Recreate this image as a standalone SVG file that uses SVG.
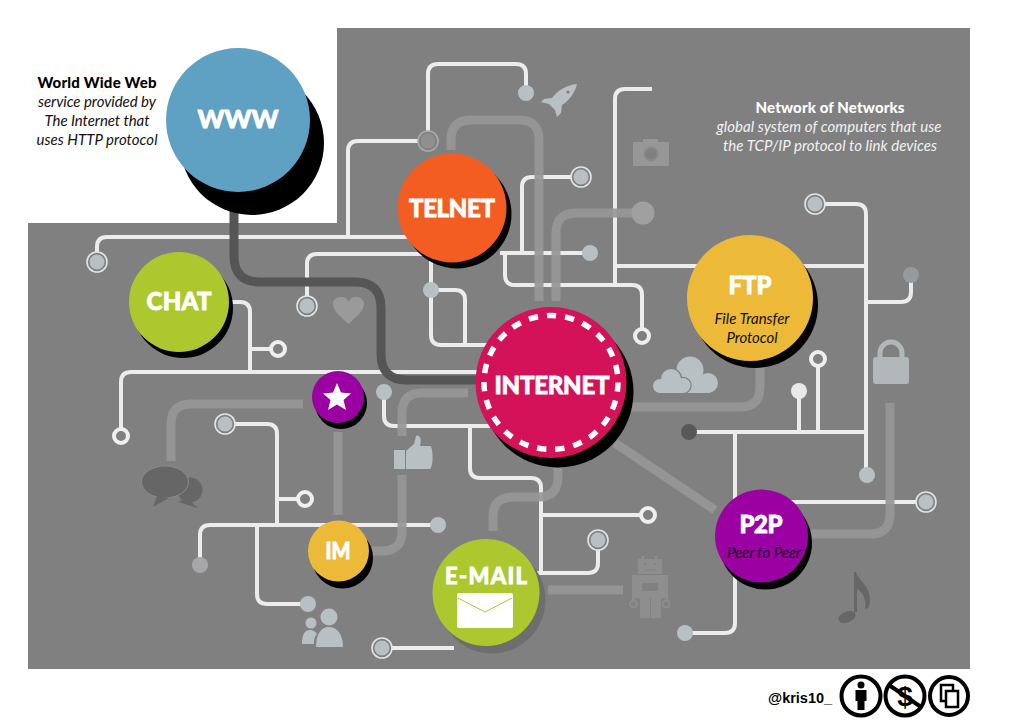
<svg xmlns="http://www.w3.org/2000/svg" width="1023" height="726" viewBox="0 0 1023 726">
<style>
.w{fill:none;stroke:#ececec;stroke-width:4}
.g{fill:none;stroke:#979797;stroke-width:9;opacity:.93}
.d{fill:none;stroke:#555;stroke-width:9}
.n{fill:#b9c0c4}
.ro{fill:#808080;stroke:#e2e4e5;stroke-width:1.6}
.ri{fill:#b9c0c4}
.wr{fill:#808080;stroke:#efefef;stroke-width:4}
.lb{font-family:Lato,"Liberation Sans",sans-serif;font-weight:900;fill:#fff;stroke:#fff;stroke-width:.8;text-anchor:middle}
.it{font-family:Lato,"Liberation Sans",sans-serif;font-style:italic;font-weight:400;font-size:15px;text-anchor:middle}
.hd{font-family:Lato,"Liberation Sans",sans-serif;font-weight:900;font-size:15px;text-anchor:middle}
</style>
<rect width="1023" height="726" fill="#fff"/>
<path d="M337 28H970V669H28V223H337Z" fill="#808080"/>
<g id="connectors">
<path class="w" d="M428 141V74Q428 64 438 64H516Q526 64 526 74V93"/>
<path class="w" d="M428 141H358Q348 141 348 151V237"/>
<path class="w" d="M97 262V247Q97 237 107 237H410"/>
<path class="w" d="M425 254H317Q307 254 307 264V306"/>
<path class="w" d="M431 258V335Q431 345 441 345H490"/>
<path class="w" d="M431 290H455Q465 290 465 300V345"/>
<path class="w" d="M500 253H590"/>
<path class="w" d="M522 253V187Q522 177 532 177H581"/>
<path class="w" d="M505 253V275Q505 285 515 285H632Q642 285 642 295V336"/>
<path class="w" d="M615 285V99Q615 89 625 89H652"/>
<path class="w" d="M615 266H866"/>
<path class="w" d="M815 204H856Q866 204 866 214V475"/>
<path class="w" d="M866 302H901Q911 302 911 292V275"/>
<path class="w" d="M689 432H866"/>
<path class="w" d="M799 432V391"/>
<path class="w" d="M818 432V359"/>
<path class="w" d="M735 432V623Q735 633 725 633H685"/>
<path class="w" d="M790 502H926"/>
<path class="w" d="M228 302H240Q250 302 250 312V372"/>
<path class="w" d="M250 349H278"/>
<path class="w" d="M121 436V382Q121 372 131 372H480"/>
<path class="w" d="M384 392V416Q384 426 394 426H490"/>
<path class="w" d="M470 426V468Q470 478 480 478H531Q541 478 541 488V575"/>
<path class="w" d="M541 515H648"/>
<path class="w" d="M536 573H588Q598 573 598 563V540"/>
<path class="w" d="M200 565V535Q200 525 210 525H438"/>
<path class="w" d="M277 525V434Q277 424 267 424H225"/>
<path class="w" d="M277 499H305"/>
<path class="w" d="M257 525V594Q257 604 267 604H308"/>
<path class="w" d="M382 648H454"/>
<path class="g" d="M451 150V140Q451 120 471 120H519Q539 120 539 140V301"/>
<path class="g" d="M556 301V233Q556 213 576 213H643"/>
<path class="g" d="M303 404H191Q171 404 171 424V461"/>
<path class="g" d="M338 432V515"/>
<path class="g" d="M468 393H422Q402 393 402 413V436"/>
<path class="g" d="M402 475V531Q402 551 382 551H372"/>
<path class="g" d="M493 531V517Q493 497 513 497H538Q558 497 558 477V468"/>
<path class="g" d="M548 590H623"/>
<path class="g" d="M615 443L715 510"/>
<path class="g" d="M760 366V387Q760 407 740 407H630"/>
<path class="g" d="M808 534H870Q890 534 890 514V403"/>
<path class="d" d="M234 210V256Q234 282 260 282H355Q381 282 381 308V354Q381 380 407 380H480"/>
</g>
<g id="terminals">
<circle class="ro" cx="97" cy="262" r="10"/><circle class="ri" cx="97" cy="262" r="7.5"/>
<circle cx="428" cy="141" r="10" fill="#808080" stroke="#a8abad" stroke-width="1.6"/><circle cx="428" cy="141" r="7.5" fill="#8f8f8f"/>
<circle class="n" cx="526" cy="93" r="8"/>
<circle class="ro" cx="307" cy="306" r="10"/><circle class="ri" cx="307" cy="306" r="7.5"/>
<circle class="n" cx="431" cy="290" r="8"/>
<circle class="ro" cx="581" cy="177" r="10"/><circle class="ri" cx="581" cy="177" r="7.5"/>
<circle class="n" cx="590" cy="253" r="8"/>
<circle class="wr" cx="642" cy="336" r="7"/>
<circle cx="643" cy="213" r="11.500" fill="#a0a0a0"/>
<circle class="ro" cx="815" cy="204" r="10"/><circle class="ri" cx="815" cy="204" r="7.5"/>
<circle cx="911" cy="275" r="8" fill="#979a9c"/>
<circle class="n" cx="867" cy="475" r="8"/>
<circle cx="689" cy="432" r="8" fill="#585858"/>
<circle cx="799" cy="391" r="8" fill="#e8eaea"/>
<circle class="wr" cx="818" cy="359" r="7"/>
<circle class="n" cx="685" cy="633" r="8"/>
<circle class="ro" cx="926" cy="502" r="10"/><circle class="ri" cx="926" cy="502" r="7.5"/>
<circle class="wr" cx="278" cy="349" r="7"/>
<circle class="wr" cx="121" cy="436" r="7"/>
<circle class="n" cx="384" cy="392" r="8"/>
<circle class="wr" cx="648" cy="515" r="7"/>
<circle class="ro" cx="598" cy="540" r="10"/><circle class="ri" cx="598" cy="540" r="7.5"/>
<circle cx="200" cy="565" r="8" fill="#a5a8a9"/>
<circle class="n" cx="438" cy="525" r="8"/>
<circle class="ro" cx="225" cy="424" r="10"/><circle class="ri" cx="225" cy="424" r="7.5"/>
<circle class="wr" cx="305" cy="499" r="7"/>
<circle class="n" cx="308" cy="604" r="8"/>
<circle class="ro" cx="382" cy="648" r="10"/><circle class="ri" cx="382" cy="648" r="7.5"/>
</g>
<g id="icons">
<g id="icon-rocket"><path d="M577 84C567 85 558 90 552 98L544 99L541 102L549 104L555 110L557 117L561 113L562 105C570 100 575 92 577 84Z" fill="#b9c0c4"/><circle cx="568" cy="92" r="1.600" fill="#808080"/></g>
<g id="icon-camera"><rect x="633" y="142" width="36" height="24" rx="1" fill="#979797"/><rect x="643" y="139" width="15" height="5" fill="#979797"/><circle cx="651" cy="154" r="6.500" fill="#808080" stroke="#8a8a8a" stroke-width="2"/></g>
<path id="icon-heart" d="M348.500 324C340 316 333 311 333 304C333 299 337 297 341 297C344 297 347 298 348.500 302C350 298 353 297 356 297C360 297 364 299 364 304C364 311 357 316 348.500 324Z" fill="#9a9a9a"/>
<g id="icon-cloud" fill="#b9c0c4">
<circle cx="690" cy="370" r="13.500"/><circle cx="708" cy="383" r="10"/><rect x="680" y="378" width="30" height="15"/>
<g stroke="#808080" stroke-width="2.400"><circle cx="671" cy="379" r="10"/><circle cx="660" cy="386" r="7"/><circle cx="683" cy="385.500" r="7.500"/></g>
<circle cx="671" cy="379" r="10"/><circle cx="660" cy="386" r="7"/><circle cx="683" cy="385.500" r="7.500"/><rect x="660" y="381" width="23" height="12"/></g>
<g id="icon-lock"><path d="M880 360V353A11 11 0 0 1 902 353V360" fill="none" stroke="#b2b7ba" stroke-width="5"/><rect x="873" y="357" width="36" height="27" rx="3" fill="#b2b7ba"/></g>
<g id="icon-thumb" fill="#b9c0c4"><rect x="394" y="450" width="11" height="19"/><path d="M406 451L414 444L416 436C420 434 422 440 420 446H430C433 446 434 466 430 469H406Z"/></g>
<g id="icon-bubbles" fill="#666"><ellipse cx="190" cy="490" rx="12.500" ry="12.500"/><path d="M178 498L198 508L186 504Z"/><path d="M188 499L198 508L178 502Z"/><ellipse cx="165" cy="482" rx="23.500" ry="16" stroke="#8a8a8a" stroke-width="1"/><path d="M157 496L153 507L169 498Z"/></g>
<g id="icon-people" fill="#b9c0c4"><circle cx="329" cy="617" r="8.500"/><path d="M316 647C316 634 321 627 329 627C337 627 343 634 343 647Z"/><circle cx="311" cy="623" r="5.500"/><path d="M302 644C302 634 305 630 310 630C313 630 316 632 317 634C314 637 314 641 314 644Z"/></g>
<g id="icon-robot" fill="#8e8e8e"><rect x="638" y="559" width="24" height="15"/><rect x="642" y="556" width="2" height="4"/><rect x="655" y="556" width="2" height="4"/><rect x="632" y="575" width="36" height="23"/><rect x="640" y="598" width="10" height="20"/><rect x="651" y="598" width="10" height="20"/><path d="M633.500 598V600M666.500 598V600" stroke="#8e8e8e" stroke-width="3"/><circle cx="633.500" cy="604" r="3.500" fill="none" stroke="#8e8e8e" stroke-width="1.800"/><circle cx="666" cy="604" r="3.500" fill="none" stroke="#8e8e8e" stroke-width="1.800"/><rect x="642" y="583" width="16" height="8" fill="#808080"/><circle cx="645" cy="564" r="1" fill="#808080"/><circle cx="655" cy="564" r="1" fill="#808080"/><path d="M645 570H655" stroke="#808080"/></g>
<g id="icon-music" fill="#666"><ellipse cx="847" cy="617" rx="9" ry="5.500" transform="rotate(-22 847 617)"/><path d="M854 572H856C858 580 870 585 870 600C870 606 868 609 865 609C867 598 862 592 857 589V612H854Z"/></g>
</g>
<g id="node-www"><circle cx="252" cy="143" r="72"/><circle cx="238" cy="120" r="72" fill="#5fa1c2"/><text class="lb" x="238" y="128" font-size="24" textLength="81" lengthAdjust="spacingAndGlyphs">WWW</text></g>
<g id="node-telnet"><circle cx="457" cy="214" r="54.500"/><circle cx="452" cy="208" r="54.500" fill="#f45d22"/><text class="lb" x="452" y="217" font-size="24" textLength="86">TELNET</text></g>
<g id="node-chat"><circle cx="183" cy="308" r="50"/><circle cx="179" cy="302" r="50" fill="#acc82e"/><text class="lb" x="179" y="310" font-size="24" textLength="65">CHAT</text></g>
<g id="node-ftp"><circle cx="755" cy="305" r="63"/><circle cx="750" cy="298" r="63" fill="#edb938"/><text class="lb" x="750" y="294" font-size="24" textLength="43">FTP</text><text class="it" x="752" y="324" fill="#111" textLength="75">File Transfer</text><text class="it" x="752" y="343" fill="#111" textLength="51">Protocol</text></g>
<g id="node-star"><circle cx="341" cy="403" r="26"/><circle cx="338" cy="397" r="26" fill="#9b00a3"/><path d="M337 383L341 392.500L351 393.500L343.500 400L346 410L337 404.500L328 410L330.500 400L323 393.500L333 392.500Z" fill="#fff"/></g>
<g id="node-im"><circle cx="342.500" cy="558" r="30.500"/><circle cx="338.500" cy="551" r="30.500" fill="#edb938"/><text class="lb" x="338" y="559" font-size="22" textLength="25" lengthAdjust="spacingAndGlyphs">IM</text></g>
<g id="node-email"><circle cx="492" cy="600" r="53.500" fill="#6e6e6e"/><circle cx="486" cy="592.500" r="53.500" fill="#acc82e"/><text class="lb" x="486" y="584" font-size="22" textLength="82">E-MAIL</text><rect x="457" y="593" width="56" height="35" rx="2" fill="#fff"/><path d="M458 598L485 612L512 598" fill="none" stroke="#acc82e" stroke-width="1"/></g>
<g id="node-p2p"><circle cx="765.500" cy="543" r="46.500"/><circle cx="761.500" cy="536" r="46.500" fill="#9b00a3"/><text class="lb" x="761" y="533" font-size="24" textLength="43">P2P</text><text class="it" x="764" y="558" fill="#1c0022" textLength="74">Peer to Peer</text></g>
<g id="node-internet"><circle cx="558" cy="392" r="75.500"/><circle cx="551" cy="382.500" r="75.500" fill="#d3125a"/><circle cx="551" cy="382.500" r="67" fill="none" stroke="#fff" stroke-width="5.500" stroke-dasharray="9.300 9"/><text class="lb" x="552" y="394" font-size="24" textLength="115">INTERNET</text></g>
<g id="captions">
<text class="hd" x="97" y="88" textLength="119">World Wide Web</text>
<text class="it" x="97" y="107" fill="#111" textLength="118">service provided by</text>
<text class="it" x="97" y="126" fill="#111" textLength="105">The Internet that</text>
<text class="it" x="97" y="145" fill="#111" textLength="121">uses HTTP protocol</text>
<text class="hd" x="830" y="113" fill="#fff" textLength="149">Network of Networks</text>
<text class="it" x="829" y="132" fill="#f2f2f2" textLength="225">global system of computers that use</text>
<text class="it" x="830" y="151" fill="#f2f2f2" textLength="214">the TCP/IP protocol to link devices</text>
</g>
<g id="footer">
<text x="768" y="703" font-family="Liberation Sans,sans-serif" font-weight="700" font-size="14.500">@kris10_</text>
<g id="by"><circle cx="861" cy="696" r="19.500" fill="#fff" stroke="#000" stroke-width="4"/><circle cx="861" cy="685" r="3.500"/><path d="M855.500 690H866.500V701H864.500V710H857.500V701H855.500Z"/></g>
<g id="nc"><circle cx="905" cy="696" r="19.500" fill="#fff" stroke="#000" stroke-width="4"/><text x="905" y="706" font-family="Liberation Sans,sans-serif" font-weight="700" font-size="28" text-anchor="middle">$</text><path d="M889 685L921 707" stroke="#000" stroke-width="4"/></g>
<g id="nd"><circle cx="949" cy="696" r="19" fill="#fff" stroke="#000" stroke-width="4"/><rect x="941" y="685" width="12" height="16" fill="#fff" stroke="#000" stroke-width="2.500"/><rect x="946" y="691" width="12" height="16" fill="#fff" stroke="#000" stroke-width="2.500"/></g>
</g>
</svg>
